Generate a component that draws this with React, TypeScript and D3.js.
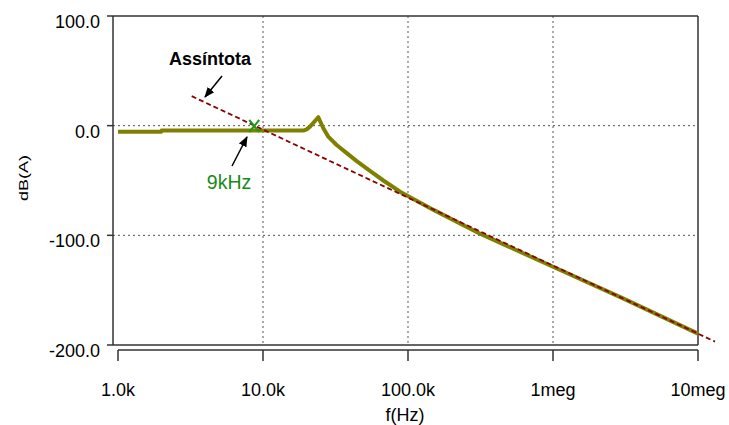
import React from "react";
import * as d3 from "d3";

// ---- data ----
const xTicks = [1e3, 1e4, 1e5, 1e6, 1e7];
const xTickLabels = ["1.0k", "10.0k", "100.0k", "1meg", "10meg"];
const yTicks = [100, 0, -100, -200];
const yTickLabels = ["100.0", "0.0", "-100.0", "-200.0"];

const curveFreq = [1000, 1990, 2000, 10000, 18970, 20000, 21100, 24070, 26060, 28200, 32200, 37800, 44300, 54700, 67600, 88100, 150000, 314000, 1000000, 3040000, 10000000];
const curveDb = [-5.6, -5.6, -4.5, -4.5, -4.5, -3.4, -0.9, 7.7, -2.4, -10.0, -17.6, -25.0, -32.3, -41.3, -50.0, -60.2, -76.8, -98.5, -128.6, -157.5, -189.6];

const asymFreq = [3223, 13100000];
const asymDb = [26.9, -196.9];

const markerFreq = 8700;
const markerDb = -0.3;

export default function App() {
  const W = 729, H = 425;
  const x = d3.scaleLog().domain([1e3, 1e7]).range([118, 698]);
  const y = d3.scaleLinear().domain([-200, 100]).range([345, 16]);
  const font = "'Liberation Sans', Arial, Helvetica, sans-serif";

  const line = d3
    .line<[number, number]>()
    .x((d) => x(d[0]))
    .y((d) => y(d[1]));

  const curvePts: [number, number][] = curveFreq.map((f, i) => [f, curveDb[i]]);
  const asymPts: [number, number][] = asymFreq.map((f, i) => [f, asymDb[i]]);

  const left = x(1e3) - 5;
  const right = x(1e7);
  const top = y(100);
  const bottom = y(-200);
  const axisY = bottom + 5;

  const mx = x(markerFreq), my = y(markerDb);

  return (
    <svg
      width={W}
      height={H}
      style={{ position: "absolute", left: 0, top: 0, background: "#fff" }}
      fontFamily={font}
    >
      <defs>
        <marker id="ah" viewBox="0 0 10 10" refX="9" refY="5" markerWidth="7" markerHeight="7" orient="auto-start-reverse">
          <path d="M0,1 L10,5 L0,9 z" fill="#000" />
        </marker>
      </defs>

      {/* grid */}
      {xTicks.slice(1, -1).map((t) => (
        <line key={"gx" + t} x1={x(t)} x2={x(t)} y1={top} y2={bottom} stroke="#555" strokeWidth={1} strokeDasharray="2,3" />
      ))}
      {[0, -100].map((t) => (
        <line key={"gy" + t} x1={left} x2={right} y1={y(t)} y2={y(t)} stroke="#555" strokeWidth={1} strokeDasharray="2,3" />
      ))}

      {/* frame */}
      <line x1={left} x2={right} y1={top} y2={top} stroke="#333" strokeWidth={1.5} />
      <line x1={right} x2={right} y1={top} y2={bottom} stroke="#333" strokeWidth={1.5} />
      <line x1={left} x2={right} y1={bottom} y2={bottom} stroke="#333" strokeWidth={1.5} />
      <line x1={left} x2={left} y1={top} y2={bottom} stroke="#333" strokeWidth={1.5} />

      {/* y ticks */}
      {yTicks.map((t, i) => (
        <g key={"yt" + t}>
          <line x1={left - 6} x2={left} y1={y(t)} y2={y(t)} stroke="#333" strokeWidth={1.5} />
          <text x={100} y={y(t) + 12} textAnchor="end" fontSize={18} fill="#000">
            {yTickLabels[i]}
          </text>
        </g>
      ))}

      {/* x axis */}
      <line x1={x(1e3)} x2={right} y1={axisY} y2={axisY} stroke="#333" strokeWidth={1.5} />
      {xTicks.map((t, i) => (
        <g key={"xt" + t}>
          <line x1={x(t)} x2={x(t)} y1={axisY} y2={axisY + 11} stroke="#333" strokeWidth={1.5} />
          <text x={x(t)} y={396} textAnchor="middle" fontSize={18} fill="#000">
            {xTickLabels[i]}
          </text>
        </g>
      ))}
      <text x={405} y={421} textAnchor="middle" fontSize={18} fill="#000">f(Hz)</text>
      <text transform="translate(28,178) rotate(-90) scale(1,0.72)" textAnchor="middle" fontSize={18} fill="#000">dB(A)</text>

      {/* curve */}
      <path d={line(curvePts) || ""} fill="none" stroke="#808000" strokeWidth={4} strokeLinejoin="round" />

      {/* asymptote */}
      <path d={line(asymPts) || ""} fill="none" stroke="#8b0000" strokeWidth={1.8} strokeDasharray="5,3" />

      {/* marker */}
      <g stroke="#1a9a1a" strokeWidth={2}>
        <line x1={mx - 5} x2={mx + 5} y1={my - 6} y2={my + 6} />
        <line x1={mx - 5} x2={mx + 5} y1={my + 6} y2={my - 6} />
      </g>

      {/* annotations */}
      <text x={210} y={65} textAnchor="middle" fontSize={18} fontWeight="bold" fill="#000">Assíntota</text>
      <line x1={222} y1={76} x2={205} y2={97} stroke="#000" strokeWidth={1.5} markerEnd="url(#ah)" />
      <text x={229} y={189} textAnchor="middle" fontSize={19.5} fill="#1a8a1a">9kHz</text>
      <line x1={232} y1={166} x2={247} y2={137} stroke="#000" strokeWidth={1.5} markerEnd="url(#ah)" />
    </svg>
  );
}
